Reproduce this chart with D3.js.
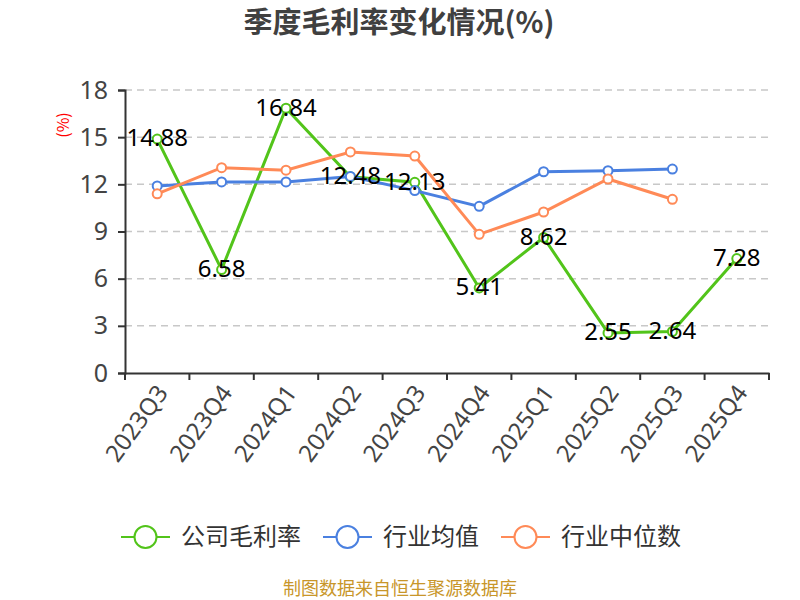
<!DOCTYPE html>
<meta charset="utf-8">
<style>
body { margin: 0; background: #fff; }
text { font-family: "Noto Sans CJK SC", "Noto Sans", sans-serif; }
</style>
<svg width="800" height="600"></svg>
<script src="https://cdn.jsdelivr.net/npm/d3@7/dist/d3.min.js"></script>
<script>
var quarters = ["2023Q3","2023Q4","2024Q1","2024Q2","2024Q3","2024Q4","2025Q1","2025Q2","2025Q3","2025Q4"]
var company = [14.88, 6.58, 16.84, 12.48, 12.13, 5.41, 8.62, 2.55, 2.64, 7.28]
var industryAvg = [11.9, 12.15, 12.15, 12.5, 11.6, 10.6, 12.8, 12.87, 12.97, null]
var industryMedian = [11.4, 13.06, 12.9, 14.06, 13.8, 8.82, 10.24, 12.34, 11.05, null]
var yTicks = [0, 3, 6, 9, 12, 15, 18]

var series = [
  {name: "公司毛利率", values: company, color: "#52c41a"},
  {name: "行业均值", values: industryAvg, color: "#4a80e0"},
  {name: "行业中位数", values: industryMedian, color: "#ff8a57"}
]

var svg = d3.select("svg")
var mLeft = 125, mRight = 769, mTop = 90, mBottom = 373

var x = d3.scaleBand().domain(quarters).range([mLeft, mRight])
var y = d3.scaleLinear().domain([0, 18]).range([mBottom, mTop])

svg.append("text")
  .attr("x", 399).attr("y", 33)
  .attr("text-anchor", "middle")
  .attr("font-size", 29).attr("font-weight", "bold")
  .attr("fill", "#404040")
  .text("季度毛利率变化情况(%)")

// grid
svg.append("g")
  .selectAll("line")
  .data(yTicks.slice(1))
  .enter().append("line")
    .attr("x1", mLeft).attr("x2", mRight)
    .attr("y1", d => y(d)).attr("y2", d => y(d))
    .attr("stroke", "#c8c8c8")
    .attr("stroke-dasharray", "7,5")
    .attr("stroke-width", 1.5)

var yAxis = svg.append("g")
  .attr("transform", "translate(" + mLeft + ",0)")
  .call(d3.axisLeft(y).tickValues(yTicks).tickSize(7).tickPadding(10))
yAxis.selectAll("text").attr("font-size", 25).attr("fill", "#444")
  .style("font-family", "'Noto Sans', sans-serif")
yAxis.selectAll("line,path").attr("stroke", "#333").attr("stroke-width", 2)

var xAxis = svg.append("g")
  .attr("transform", "translate(0," + mBottom + ")")
  .call(d3.axisBottom(x).tickSize(0).tickFormat(""))
xAxis.select("path").attr("stroke", "#333").attr("stroke-width", 2)

// band boundary ticks
svg.append("g")
  .selectAll("line")
  .data(quarters.concat(["end"]))
  .enter().append("line")
    .attr("x1", (d, i) => mLeft + i * x.step())
    .attr("x2", (d, i) => mLeft + i * x.step())
    .attr("y1", mBottom).attr("y2", mBottom + 7)
    .attr("stroke", "#333").attr("stroke-width", 2)

svg.append("g")
  .selectAll("text")
  .data(quarters)
  .enter().append("text")
    .attr("transform", d => "translate(" + (x(d) + x.bandwidth() / 2 + 5) + "," + (mBottom + 15) + ") rotate(-54)")
    .attr("text-anchor", "end")
    .attr("dy", "0.35em")
    .attr("font-size", 24)
    .attr("fill", "#444")
    .style("font-family", "'Noto Sans', sans-serif")
    .text(d => d)

svg.append("text")
  .attr("transform", "translate(63,125) rotate(-90)")
  .attr("text-anchor", "middle")
  .attr("dy", "0.35em")
  .attr("font-size", 16)
  .attr("fill", "#f00")
  .text("(%)")

var cx = d => x(d) + x.bandwidth() / 2
var line = d3.line()
  .defined(d => d.v !== null)
  .x(d => cx(d.q))
  .y(d => y(d.v))

series.forEach(s => {
  var pts = quarters.map((q, i) => ({q: q, v: s.values[i]}))
  var g = svg.append("g")
  g.append("path")
    .datum(pts)
    .attr("d", line)
    .attr("fill", "none")
    .attr("stroke", s.color)
    .attr("stroke-width", 3)
  g.selectAll("circle")
    .data(pts.filter(d => d.v !== null))
    .enter().append("circle")
      .attr("cx", d => cx(d.q))
      .attr("cy", d => y(d.v))
      .attr("r", 4.5)
      .attr("fill", "#fff")
      .attr("stroke", s.color)
      .attr("stroke-width", 2)
})

svg.append("g")
  .selectAll("text")
  .data(quarters.map((q, i) => ({q: q, v: company[i]})))
  .enter().append("text")
    .attr("x", d => cx(d.q))
    .attr("y", d => y(d.v) - 1)
    .attr("dy", "0.35em")
    .attr("text-anchor", "middle")
    .attr("font-size", 24)
    .attr("fill", "#000")
    .style("font-family", "'Noto Sans', sans-serif")
    .text(d => d.v.toFixed(2))

// legend
var legendX = [121, 323, 501]
var legend = svg.append("g")
  .selectAll("g")
  .data(series)
  .enter().append("g")
    .attr("transform", (d, i) => "translate(" + legendX[i] + ",537)")
legend.append("line")
  .attr("x1", 0).attr("x2", 49)
  .attr("stroke", d => d.color).attr("stroke-width", 2)
legend.append("circle")
  .attr("cx", 24.5).attr("r", 11)
  .attr("fill", "#fff")
  .attr("stroke", d => d.color).attr("stroke-width", 2)
legend.append("text")
  .attr("x", 60).attr("dy", "0.35em")
  .attr("font-size", 24)
  .attr("fill", "#333")
  .text(d => d.name)

svg.append("text")
  .attr("x", 400).attr("y", 595)
  .attr("text-anchor", "middle")
  .attr("font-size", 18)
  .attr("fill", "#c8962a")
  .text("制图数据来自恒生聚源数据库")
</script>
